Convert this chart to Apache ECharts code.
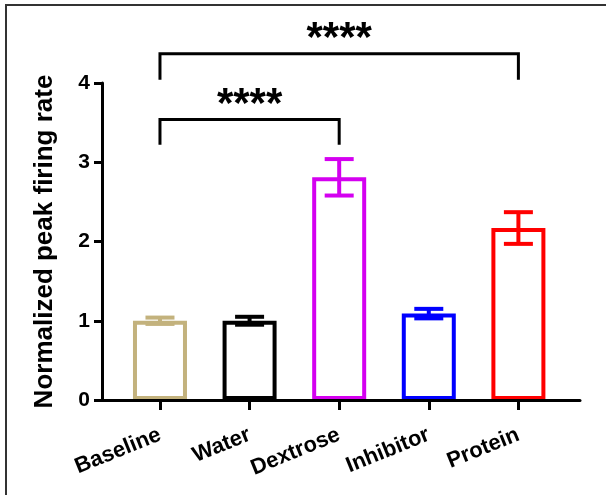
<!DOCTYPE html>
<html>
<head>
<meta charset="utf-8">
<script src="https://cdn.jsdelivr.net/npm/echarts@6/dist/echarts.min.js"></script>
<style>
body { margin: 0; background: #fff; }
#wrap { width: 606px; height: 495px; position: relative; overflow: hidden; }
#panel { width: 606px; height: 495px; }
#frame { position: absolute; left: 5px; top: 4px; width: 640px; height: 540px;
  border-top: 2px solid #333; border-left: 2px solid #333; pointer-events: none; }
</style>
</head>
<body>
<div id="wrap"><div id="panel"></div><div id="frame"></div></div>
<script>
var groups = ['Baseline', 'Water', 'Dextrose', 'Inhibitor', 'Protein'];
var means = [1.00, 1.00, 2.81, 1.09, 2.17];
var sems = [0.04, 0.05, 0.23, 0.06, 0.20];
var colors = ['#c3b27d', '#000000', '#d400f0', '#0000ff', '#ff0000'];
var groupTicks = [0, 1, 2, 3, 4];

// significance brackets
var sigFrom = [0, 0];
var sigTo = [2, 4];
var sigLevel = [3.54, 4.37];
var sigLeg = [3.22, 4.04];
var sigText = ['****', '****'];

var FONT = 'Liberation Sans';
var myChart;

function renderError(params, api)
{
    var i = api.value(0);
    var m = api.value(1);
    var s = api.value(2);
    var top = api.coord([i, m + s]);
    var bot = api.coord([i, m - s]);
    var half = 14.5;
    var st = { stroke: colors[i], lineWidth: 4 };
    return {
        type: 'group',
        children: [
            { type: 'line', shape: { x1: top[0], y1: top[1], x2: bot[0], y2: bot[1] }, style: st },
            { type: 'line', shape: { x1: top[0] - half, y1: top[1], x2: top[0] + half, y2: top[1] }, style: st },
            { type: 'line', shape: { x1: bot[0] - half, y1: bot[1], x2: bot[0] + half, y2: bot[1] }, style: st }
        ]
    };
}

function renderBracket(params, api)
{
    var a = api.coord([api.value(0), api.value(2)]);
    var b = api.coord([api.value(1), api.value(2)]);
    var legY = api.coord([0, api.value(3)])[1];
    return {
        type: 'group',
        children: [
            {
                type: 'polyline',
                shape: { points: [[a[0], legY], [a[0], a[1]], [b[0], b[1]], [b[0], legY]] },
                style: { stroke: '#000', lineWidth: 3, fill: null }
            },
            {
                type: 'text',
                x: (a[0] + b[0]) / 2,
                y: a[1] + 7,
                style: {
                    text: sigText[params.dataIndex],
                    fontFamily: FONT, fontWeight: 'bold', fontSize: 42,
                    fill: '#000', align: 'center', verticalAlign: 'bottom'
                }
            }
        ]
    };
}

window.onload = function()
{
    myChart = echarts.init(document.getElementById('panel'));
    var barData = means.map(function(v, i) {
        return {
            value: [i, v],
            itemStyle: { color: '#fff', borderColor: colors[i], borderWidth: 4 }
        };
    });
    var errData = means.map(function(v, i) { return [i, v, sems[i]]; });
    var sigData = sigFrom.map(function(f, k) { return [f, sigTo[k], sigLevel[k], sigLeg[k]]; });

    myChart.setOption({
        backgroundColor: '#fff',
        animation: false,
        grid: { left: 102, right: 26, top: 83, bottom: 95 },
        xAxis: {
            type: 'value',
            min: -0.647,
            max: 4.6875,
            z: 10,
            splitLine: { show: false },
            axisLine: { show: true, onZero: false, lineStyle: { color: '#000', width: 3 } },
            axisTick: { show: true, customValues: groupTicks, length: 10, lineStyle: { color: '#000', width: 3 } },
            axisLabel: {
                customValues: groupTicks,
                rotate: 22,
                margin: 34,
                formatter: function(v) { return groups[Math.round(v)]; },
                color: '#000', fontFamily: FONT, fontWeight: 'bold', fontSize: 22
            }
        },
        yAxis: {
            type: 'value',
            min: 0,
            max: 4,
            interval: 1,
            z: 10,
            name: 'Normalized peak firing rate',
            nameLocation: 'middle',
            nameGap: 44,
            nameTextStyle: { color: '#000', fontFamily: FONT, fontWeight: 'bold', fontSize: 26 },
            splitLine: { show: false },
            axisLine: { show: true, onZero: false, lineStyle: { color: '#000', width: 3 } },
            axisTick: { show: true, length: 8, lineStyle: { color: '#000', width: 3 } },
            axisLabel: { color: '#000', fontFamily: FONT, fontWeight: 'bold', fontSize: 21, margin: 12 }
        },
        series: [
            {
                type: 'bar',
                barWidth: 54,
                data: barData
            },
            {
                type: 'custom',
                renderItem: renderError,
                data: errData,
                z: 3
            },
            {
                type: 'custom',
                renderItem: renderBracket,
                data: sigData,
                clip: false,
                z: 4
            }
        ]
    });
};
</script>
</body>
</html>
